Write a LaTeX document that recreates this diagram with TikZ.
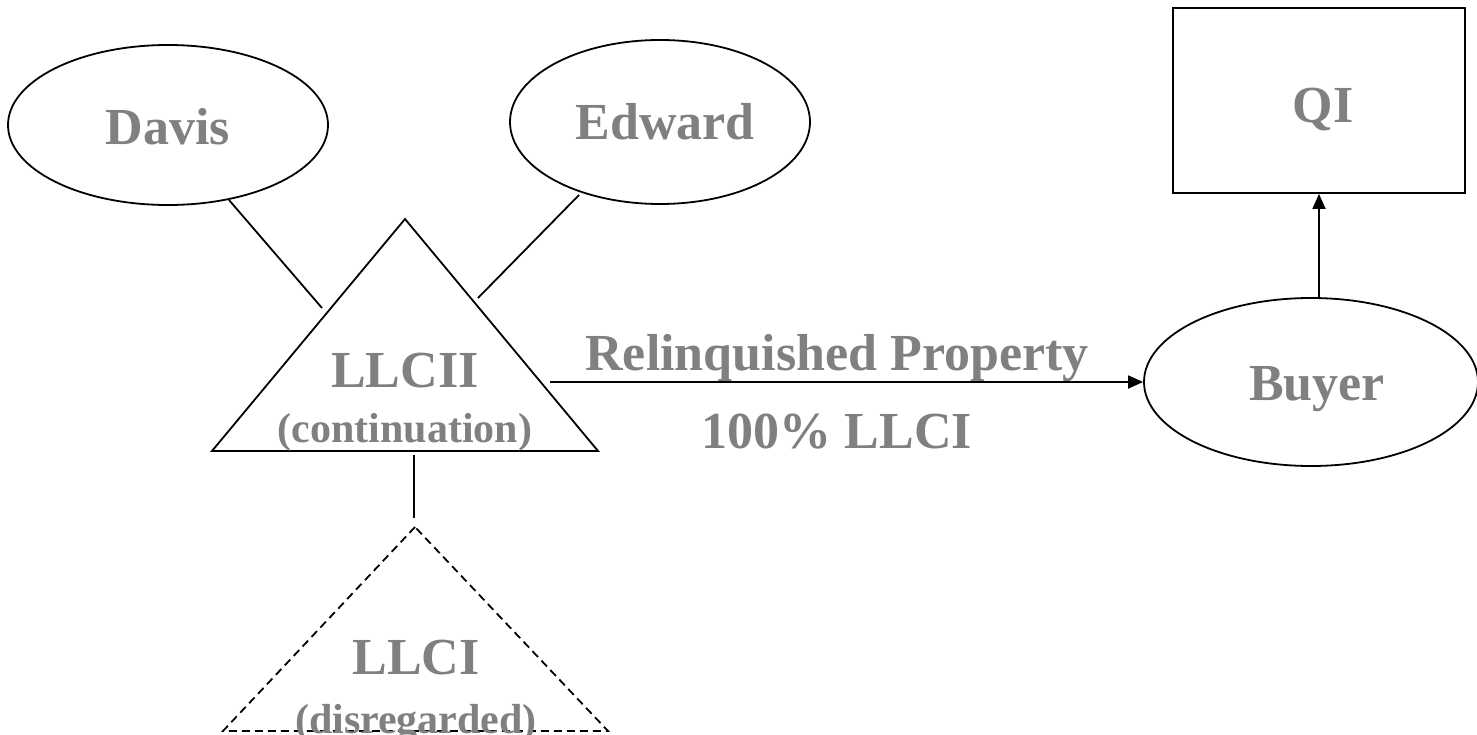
\documentclass[tikz,border=0pt]{standalone}
\usepackage{fontspec}
\setmainfont{Liberation Serif}
\usetikzlibrary{shapes.geometric,arrows.meta}
\definecolor{txtgray}{HTML}{808080}
\tikzset{
  line/.style={line width=1.8pt, black},
  oval/.style={draw, line width=1.8pt, ellipse, inner sep=0pt},
  big/.style={font=\fontsize{52}{60}\selectfont\bfseries, text=txtgray, anchor=base, inner sep=0pt},
  small/.style={font=\fontsize{42}{50}\selectfont\bfseries, text=txtgray, anchor=base, inner sep=0pt},
  arr/.style={line, -{Triangle[length=15pt,width=13pt]}},
  dashline/.style={line, dash pattern=on 8pt off 5pt}
}
\begin{document}
\begin{tikzpicture}[x=1pt,y=-1pt]
\useasboundingbox (0,0) rectangle (1477,735);
% shapes
\node[oval, minimum width=320pt, minimum height=160pt] (Davis) at (168,125) {};
\node[oval, minimum width=300pt, minimum height=164pt] (Edward) at (660,122) {};
\node[draw, line width=1.8pt, minimum width=292pt, minimum height=185pt, inner sep=0pt] (QI) at (1319,100.5) {};
\node[oval, minimum width=334pt, minimum height=168pt] (Buyer) at (1311,382) {};
% triangles
\coordinate (t1) at (405,219);
\coordinate (t2) at (212,451);
\coordinate (t3) at (598,451);
\draw[line, line join=miter] (t1) -- (t2) -- (t3) -- cycle;
\coordinate (u1) at (415,527);
\coordinate (u2) at (223,731);
\coordinate (u3) at (608,731);
\draw[dashline] (u1) -- (u2) -- (u3) -- cycle;
% labels
\node[big] (lDavis) at (168,145) {Davis};
\node[big] (lEdward) at (665,140) {Edward};
\node[big] (lQI) at (1323,123) {QI};
\node[big] (lBuyer) at (1317,400) {Buyer};
\node[big] (lLLCII) at (405,387) {LLCII};
\node[small] (lcont) at (405,442) {(continuation)};
\node[big] (lRel) at (837,370) {Relinquished Property};
\node[big] (l100) at (837,448) {100\% LLCI};
\node[big] (lLLCI) at (416,674) {LLCI};
\node[small] (ldis) at (416,733) {(disregarded)};
% connectors
\coordinate (d1) at (229,200);
\coordinate (d2) at (322,308);
\draw[line] (d1) -- (d2);
\coordinate (e1) at (579,195);
\coordinate (e2) at (478,298);
\draw[line] (e1) -- (e2);
\coordinate (v1) at (414,455);
\coordinate (v2) at (414,518);
\draw[line] (v1) -- (v2);
\coordinate (a0) at (550,382);
\draw[arr] (a0) -- (Buyer.west);
\draw[arr] (QI.south |- Buyer.north) -- (QI.south);
\end{tikzpicture}
\end{document}
